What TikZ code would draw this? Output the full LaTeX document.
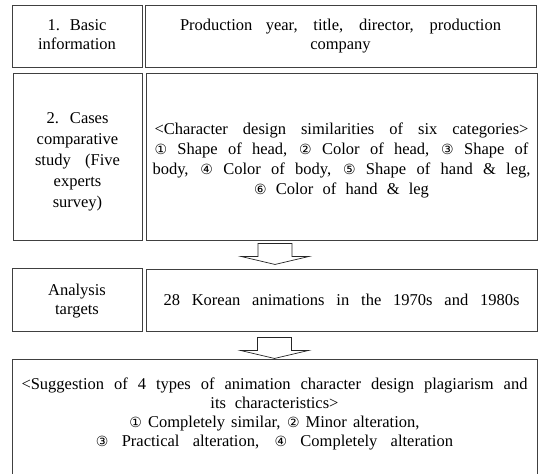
\documentclass[tikz,border=0pt]{standalone}
\usepackage{fontspec}
\setmainfont{Liberation Serif}
\newfontfamily\circfont{DejaVu Sans}
\newcommand\cnum[1]{{\circfont\fontsize{14}{19}\selectfont #1}}
% one line of text whose word gaps open up to fill a given width (in pt)
\newcommand\fitline[2]{\hbox to #1pt{\spaceskip=0.25em plus 1fill minus 0.1em\relax #2}}
% invisible strut that pushes a text block downwards
\newcommand\topgap[1]{\rule{0pt}{#1pt}}
% a block of centred lines
\newcommand\lines[1]{\begin{tabular}{@{}c@{}}#1\end{tabular}}
\usetikzlibrary{calc}

\tikzset{
  cell/.style={draw=black!75, line width=0.9pt, inner sep=0pt,
    font=\fontsize{16.5}{19.5}\selectfont},
  txt/.style={inner sep=0pt, font=\fontsize{16.5}{19}\selectfont},
  blockarrow/.style={draw=black!85, line width=0.7pt, fill=white, line join=miter},
  pics/downarrow/.style={code={
    \draw[blockarrow] (-17,0) -- (17,0) -- (17,#1) -- (34,#1) -- (0,#1+8)
      -- (-34,#1) -- (-17,#1) -- cycle;}}
}

\begin{document}
\begin{tikzpicture}[x=1pt,y=-1pt]
\useasboundingbox (0,0) rectangle (539,474);
\clip (0,0) rectangle (539,474);

% row 1: basic information
\node[cell, minimum width=130pt, minimum height=62pt] (r1l) at (77,36)
  {\lines{\fitline{59}{1. Basic}\\information}};
\node[cell, minimum width=391pt, minimum height=62pt] (r1r) at (340.5,36)
  {\lines{\topgap{14}\fitline{321}{Production year, title, director, production}\\company}};

% row 2: comparative study
\node[cell, minimum width=129pt, minimum height=167pt,
      font=\fontsize{16.5}{21}\selectfont] (r2l) at (77.5,156.5)
  {\lines{\topgap{24}\fitline{62}{2. Cases}\\comparative\\\fitline{85}{study (Five}\\experts\\survey)}};
\node[cell, minimum width=391pt, minimum height=167pt,
      font=\fontsize{16.5}{20}\selectfont] (r2r) at (341.5,156.5)
  {\lines{\topgap{22}\fitline{374}{<Character design similarities of six categories>}\\
   \fitline{374}{\cnum{①} Shape of head, \cnum{②} Color of head, \cnum{③} Shape of}\\
   \fitline{378}{body, \cnum{④} Color of body, \cnum{⑤} Shape of hand \& leg,}\\
   \fitline{175}{\cnum{⑥} Color of hand \& leg}}};

% row 3: analysis targets
\node[cell, minimum width=130pt, minimum height=63pt] (r3l) at (77,299.5)
  {\lines{\topgap{17}Analysis\\targets}};
\node[cell, minimum width=391pt, minimum height=62pt] (r3r) at (341.5,300)
  {\lines{\topgap{16}\fitline{356}{28 Korean animations in the 1970s and 1980s}}};

% row 4: results (box runs past the lower edge)
\node[cell, minimum width=525pt, minimum height=131pt] (r4) at (274.5,424.5) {};
\node[txt] (r4t) at (274.5,414)
  {\lines{\fitline{506}{<Suggestion of 4 types of animation character design plagiarism and}\\
   \fitline{128}{its characteristics>}\\
   \fitline{290}{\cnum{①} Completely similar, \cnum{②} Minor alteration,}\\
   \fitline{357}{\cnum{③} Practical alteration, \cnum{④} Completely alteration}}};

% flow arrows between the rows
\pic at ($($(r2l.south west)!0.5!(r2r.south east)$)+(0,3)$) {downarrow=13};
\pic at ($($(r3l.south west)!0.5!(r3r.south east)$)+(0,6)$) {downarrow=13};
\end{tikzpicture}
\end{document}
